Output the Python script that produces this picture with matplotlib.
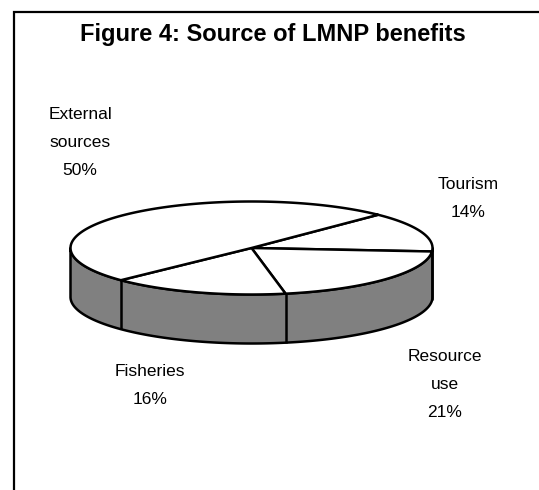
# Figure 4: Source of LMNP benefits - 3D style pie
import numpy as np
import matplotlib.pyplot as plt
from matplotlib.patches import Polygon, Rectangle

plt.rcParams['font.family'] = ['Liberation Sans', 'DejaVu Sans']

# Data, clockwise from the start angle
categories = ['Tourism', 'Resource\nuse', 'Fisheries', 'External\nsources']
shares = [14, 21, 16, 50]

# Pie geometry in image pixels
cx, cy = 251.5, 248
rx, ry = 181, 46.5
depth = 49
start = 45.6
label_pos = [(468, 189), (445, 360.5), (150, 375.5), (80, 119)]

fig = plt.figure(figsize=(5.39, 4.90), dpi=100)
ax = fig.add_axes([0, 0, 1, 1])
ax.set_xlim(0, 539)
ax.set_ylim(490, 0)
ax.axis('off')


def rim(t):
    t = np.radians(t)
    return cx + rx * np.cos(t), cy - ry * np.sin(t)


# Chart frame runs off the right and bottom edge
ax.add_patch(Rectangle((13.5, 12), 600, 600, fc='white', ec='black', lw=1.6, clip_on=True))
ax.text(272.5, 41.5, 'Figure 4: Source of LMNP benefits', ha='center', va='baseline',
        fontsize=17, fontweight='bold')

lw = 1.8
# Side wall, front half of the ellipse
t = np.linspace(180, 360, 200)
x, y = rim(t)
side = np.r_[np.c_[x, y], np.c_[x[::-1], y[::-1] + depth]]
ax.add_patch(Polygon(side, closed=True, fc='#808080', ec='black', lw=lw, joinstyle='round'))

# Top slices
angles = start - np.cumsum([0] + shares) / sum(shares) * 360
for a0, a1 in zip(angles[:-1], angles[1:]):
    x, y = rim(np.linspace(a0, a1, 150))
    top = np.r_[[[cx, cy]], np.c_[x, y]]
    ax.add_patch(Polygon(top, closed=True, fc='white', ec='black', lw=lw, joinstyle='round'))

# Slice edges going down the wall
for a in angles[:-1]:
    a = (a + 360) % 360
    if 180 < a < 360:
        x, y = rim(a)
        ax.plot([x, x], [y, y + depth], color='black', lw=lw, solid_capstyle='butt')

# Labels
for name, share, (lx, ly) in zip(categories, shares, label_pos):
    for i, line in enumerate((name + '\n%d%%' % share).split('\n')):
        ax.text(lx, ly + i * 28, line, ha='center', va='baseline', fontsize=12.5)

fig.savefig('out.png', dpi=100)
